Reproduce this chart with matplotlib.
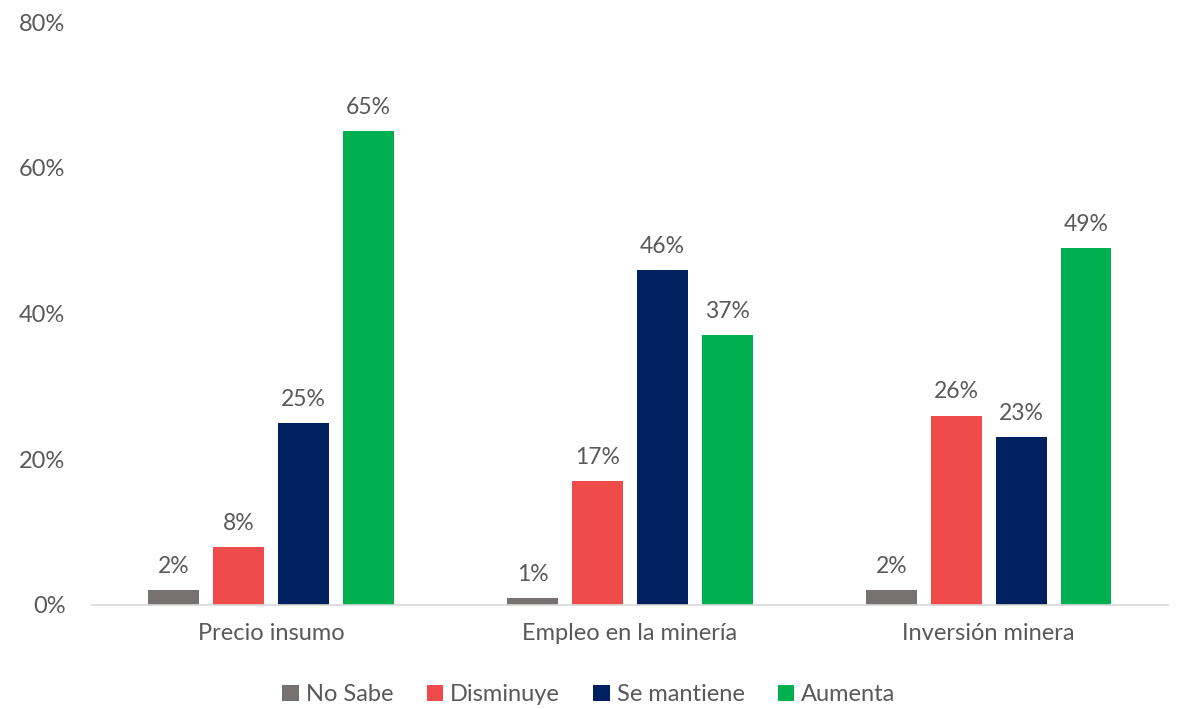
import numpy as np
import matplotlib
matplotlib.use('Agg')
import matplotlib.pyplot as plt

plt.rcParams['font.family'] = ['Lato', 'DejaVu Sans']

# datos
categorias = ['Precio insumo', 'Empleo en la minería', 'Inversión minera']
series = ['No Sabe', 'Disminuye', 'Se mantiene', 'Aumenta']
no_sabe = [2, 1, 2]
disminuye = [8, 17, 26]
se_mantiene = [25, 46, 23]
aumenta = [65, 37, 49]
y_ticks = [0, 20, 40, 60, 80]

valores = [no_sabe, disminuye, se_mantiene, aumenta]
colores = ['#767171', '#EF4B4B', '#002060', '#00B050']
texto = '#595959'

fig = plt.figure(figsize=(11.78, 7.09), dpi=100)
ax = fig.add_axes([0.078, 0.1467, 0.9135, 0.822])

x = np.arange(len(categorias))
ancho = 0.142
paso = 0.181
for i, (serie, vals, c) in enumerate(zip(series, valores, colores)):
    pos = x + (i - 1.5) * paso
    barras = ax.bar(pos, vals, width=ancho, color=c, label=serie)
    for b, v in zip(barras, vals):
        ax.text(b.get_x() + b.get_width() / 2, v + 1.8, f'{v}%',
                ha='center', va='bottom', fontsize=16.5, color=texto)

ax.set_xlim(-0.5, 2.5)
ax.set_ylim(0, 80)
ax.set_yticks(y_ticks)
ax.set_yticklabels([f'{t}%' for t in y_ticks])
ax.set_xticks(x)
ax.set_xticklabels(categorias)
ax.tick_params(axis='both', length=0, labelsize=17, colors=texto)
ax.tick_params(axis='y', pad=19)
ax.tick_params(axis='x', pad=13)
for s in ['top', 'right', 'left']:
    ax.spines[s].set_visible(False)
ax.spines['bottom'].set_color('#D9D9D9')
ax.spines['bottom'].set_linewidth(1.2)

leg = fig.legend(loc='lower center', bbox_to_anchor=(0.5, -0.025), ncol=4,
                 frameon=False, fontsize=17, handlelength=0.7, handleheight=0.7,
                 handletextpad=0.3, columnspacing=1.4)
for t in leg.get_texts():
    t.set_color(texto)

fig.savefig('out.png', dpi=100)
